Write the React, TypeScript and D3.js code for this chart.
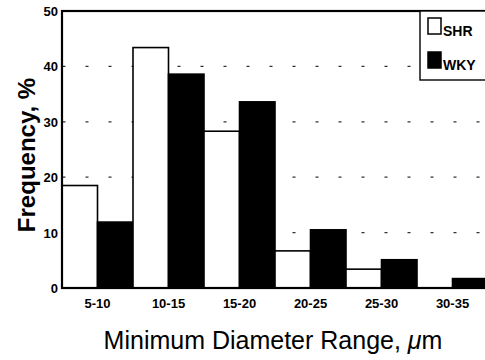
import * as d3 from 'd3';

const categories = ['5-10', '10-15', '15-20', '20-25', '25-30', '30-35'];
const seriesNames = ['SHR', 'WKY'];
const shrValues = [18.5, 43.4, 28.3, 6.7, 3.4, 0];
const wkyValues = [11.9, 38.6, 33.6, 10.5, 5.1, 1.7];
const yTicks = [0, 10, 20, 30, 40, 50];
const gridTicks = [10, 20, 30, 40];

const W = 485, H = 360;
const m = { left: 62, top: 11, right: 488, bottom: 288 };
const fill = { SHR: '#fff', WKY: '#000' };

export default function App() {
  const x = d3.scaleBand().domain(categories).range([m.left, m.right]).paddingInner(0).paddingOuter(0);
  const xs = d3.scaleBand().domain(seriesNames).range([0, x.bandwidth()]);
  const y = d3.scaleLinear().domain([0, 50]).range([m.bottom, m.top]);
  const rows = categories.map((c, i) => ({ c, SHR: shrValues[i], WKY: wkyValues[i] }));
  const font = '"Liberation Sans", Arial, Helvetica, sans-serif';

  return (
    <svg width={W} height={H} style={{ position: 'absolute', left: 0, top: 0, background: '#fff' }} fontFamily={font}>
      {/* dotted grid */}
      {gridTicks.map(t => (
        <line key={t} x1={m.left} x2={m.right} y1={y(t)} y2={y(t)}
          stroke="#333" strokeWidth={1.3} strokeDasharray="3 20" strokeDashoffset={-0.5} />
      ))}

      {/* bars */}
      {rows.map(r => seriesNames.map(s => {
        const v = r[s as 'SHR' | 'WKY'];
        const x0 = (x(r.c) as number) + (xs(s) as number);
        return (
          <rect key={r.c + s} x={x0} y={y(v)} width={xs.bandwidth()} height={y(0) - y(v)}
            fill={fill[s as 'SHR' | 'WKY']} stroke="#000" strokeWidth={1.6} />
        );
      }))}

      {/* frame */}
      <rect x={m.left} y={m.top} width={m.right - m.left} height={m.bottom - m.top}
        fill="none" stroke="#000" strokeWidth={2.2} />

      {/* y ticks */}
      {yTicks.map(t => (
        <text key={t} x={m.left - 4} y={y(t) + 5} textAnchor="end" fontSize={13}
          fontWeight="bold" fill="#000">{t}</text>
      ))}

      {/* x ticks */}
      {categories.map(c => (
        <text key={c} x={(x(c) as number) + x.bandwidth() / 2} y={308} textAnchor="middle"
          fontSize={13} fontWeight="bold" fill="#000">{c}</text>
      ))}

      {/* axis titles */}
      <text transform={`translate(35,155) rotate(-90)`} textAnchor="middle"
        fontSize={24} fontWeight="bold" fill="#000">Frequency, %</text>
      <text x={273} y={349} textAnchor="middle" fontSize={25} fill="#000">
        Minimum Diameter Range, <tspan fontStyle="italic">μ</tspan>m
      </text>

      {/* legend */}
      <rect x={420} y={m.top} width={80} height={69} fill="#fff" stroke="#000" strokeWidth={1.4} />
      {seriesNames.map((s, i) => (
        <g key={s} transform={`translate(428,${18 + i * 34})`}>
          <rect x={0} y={0} width={13} height={16} fill={fill[s as 'SHR' | 'WKY']} stroke="#000" strokeWidth={1.5} />
          <text x={15} y={18} fontSize={14} fontWeight="bold" fill="#000">{s}</text>
        </g>
      ))}
    </svg>
  );
}
